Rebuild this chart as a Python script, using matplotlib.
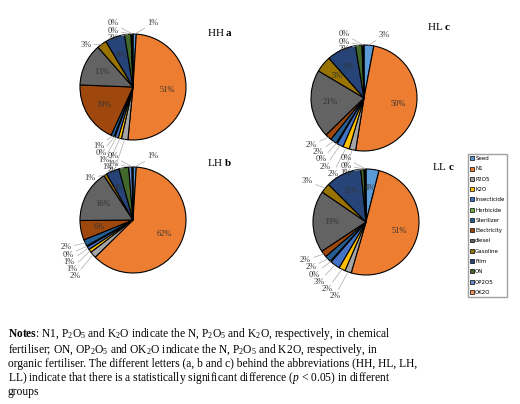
import matplotlib
matplotlib.use("Agg")
import matplotlib.pyplot as plt
import numpy as np

plt.rcParams["mathtext.fontset"] = "custom"
plt.rcParams["mathtext.rm"] = "Liberation Serif"
plt.rcParams["mathtext.it"] = "Liberation Serif:italic"
plt.rcParams["mathtext.bf"] = "Liberation Serif:bold"

categories = ["Seed","N1","P2O5","K2O","Insecticide","Herbicide","Sterilizer",
              "Electricity","diesel","Gasoline","Film","ON","OP2O5","OK2O"]
colors = ["#5B9BD5","#ED7D31","#A5A5A5","#FFC000","#4472C4","#70AD47","#255E91",
          "#9E480E","#636363","#997300","#264478","#43682B","#698ED0","#F1975A"]
HH = [1,51,2,1,1,0,1,19,13,3,6,2,0,0]
HL = [3,50,2,2,2,0,2,2,21,5,9,2,0,0]
LH = [1,62,2,1,1,0,2,6,16,1,4,3,1,0]
LL = [4,51,2,2,3,0,2,2,19,3,11,1,0,0]
titles = ["HH a","HL c","LH b","LL c"]

W, H = 520, 404
fig = plt.figure(figsize=(W/100, H/100), dpi=100)
centers = [(133,87),(364,98),(133,220),(366,222)]
R = 53
for vals, (cx, cy) in zip([HH,HL,LH,LL], centers):
    ax = fig.add_axes([(cx-R*1.6)/W, 1-(cy+R*1.6)/H, 3.2*R/W, 3.2*R/H])
    v = [x if x > 0 else 0.3 for x in vals]
    r = 1/1.6
    wedges, _ = ax.pie(v, colors=colors, startangle=90, counterclock=False,
                       radius=r, wedgeprops=dict(edgecolor="black", linewidth=0.8))
    ax.set_xlim(-1, 1); ax.set_ylim(-1, 1); ax.set_aspect("equal")
    right, left = [], []
    for i, (w, val) in enumerate(zip(wedges, vals)):
        ang = np.deg2rad((w.theta1 + w.theta2) / 2)
        x, y = np.cos(ang), np.sin(ang)
        if val >= 4:
            ax.text(0.65*r*x, 0.65*r*y, f"{val}%", ha="center", va="center",
                    fontsize=6, family="Liberation Serif", color="#333333")
        else:
            (right if x > 0.02 else left).append((y, x, i))
    gap = 0.085
    for side, sgn in ((right, 1), (left, -1)):
        side.sort(key=lambda t: -t[0])
        ys = []
        for (y, x, i) in side:
            ty = 1.2*r*y
            if ys and ys[-1] - ty < gap:
                ty = ys[-1] - gap
            ys.append(ty)
        # push up if bottom overflow
        for (y, x, i), ty in zip(side, ys):
            tx = sgn*max(abs(1.2*r*x), 0.12) if abs(y) > 0.8 else 1.2*r*x
            tx = tx + sgn*0.05
            ax.annotate(f"{vals[i]}%", xy=(r*x, r*y), xytext=(tx, ty),
                        ha="left" if sgn > 0 else "right", va="center",
                        fontsize=6, family="Liberation Serif", color="#333333",
                        arrowprops=dict(arrowstyle="-", color="#aaaaaa", lw=0.5,
                                        shrinkA=0, shrinkB=0))
    ax.axis("off")

tpos = [(207,32),(427,26),(207,163),(432,167)]
for t, (x, y) in zip(titles, tpos):
    fig.text(x/W, 1-y/H, t.split()[0] + " " + r"$\mathbf{" + t.split()[1] + "}$",
             fontsize=8, family="Liberation Serif", ha="left", va="center")

handles = [plt.Rectangle((0,0),1,1, facecolor=c, edgecolor="black", lw=0.5) for c in colors]
fig.legend(handles, categories, loc="upper left", bbox_to_anchor=(468/W, 1-154/H),
           fontsize=4, frameon=True, fancybox=False, edgecolor="#888888",
           handlelength=0.7, handleheight=0.7, labelspacing=0.95, borderpad=0.4,
           handletextpad=0.2, borderaxespad=0)

note = (r"$\mathbf{Notes}$: N1, P$_2$O$_5$ and K$_2$O indicate the N, P$_2$O$_5$ and K$_2$O, respectively, in chemical"
        "\nfertiliser; ON, OP$_2$O$_5$ and OK$_2$O indicate the N, P$_2$O$_5$ and K2O, respectively, in"
        "\norganic fertiliser. The different letters (a, b and c) behind the abbreviations (HH, HL, LH,"
        "\nLL) indicate that there is a statistically significant difference ($p$ < 0.05) in different"
        "\ngroups")
fig.text(8/W, 1-326/H, note, fontsize=8.3, family="Liberation Serif", ha="left", va="top",
         linespacing=1.0)
fig.savefig("out.png", dpi=100)
